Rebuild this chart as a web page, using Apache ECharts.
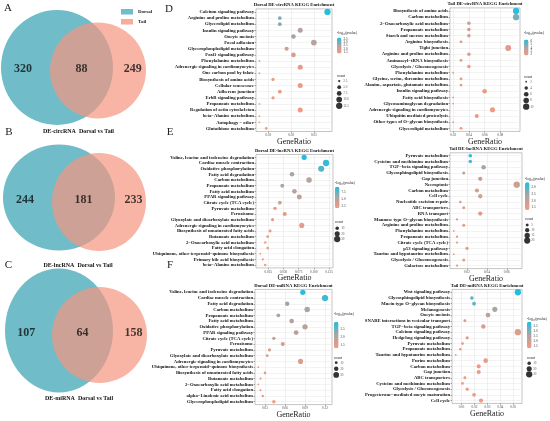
<!DOCTYPE html>
<html>
<head>
<meta charset="utf-8">
<script src="https://cdn.jsdelivr.net/npm/echarts@6/dist/echarts.min.js"></script>
<style>
  html, body { margin: 0; padding: 0; background: #fff; }
  #chart { width: 550px; height: 421px; }
</style>
</head>
<body>
<div id="chart"></div>
<script>
// ---- Venn counts: [dorsal only, shared, tail only]
const vennCircRNA = [320, 88, 249];
const vennLncRNA = [244, 181, 233];
const vennMiRNA = [107, 64, 158];
const vennCaptions = ['DE-circRNA  Dorsal vs Tail', 'DE-lncRNA  Dorsal vs Tail', 'DE-miRNA  Dorsal vs Tail'];

// ---- D left: Dorsal DE-circRNA
const circDorsalTerms = ['Calcium signaling pathway', 'Arginine and proline metabolism', 'Glycerolipid metabolism', 'Insulin signaling pathway', 'Oocyte meiosis', 'Focal adhesion', 'Glycerophospholipid metabolism', 'FoxO signaling pathway', 'Phenylalanine metabolism', 'Adrenergic signaling in cardiomyocytes', 'One carbon pool by folate', 'Biosynthesis of amino acids', 'Cellular senescence', 'Adherens junction', 'ErbB signaling pathway', 'Propanoate metabolism', 'Regulation of actin cytoskeleton', 'beta\u2212Alanine metabolism', 'Autophagy \u2212 other', 'Glutathione metabolism'];
const circDorsalRatio = [0.036, 0.015, 0.015, 0.024, 0.021, 0.030, 0.018, 0.021, 0.006, 0.024, 0.006, 0.012, 0.024, 0.015, 0.012, 0.006, 0.024, 0.006, 0.006, 0.009];
const circDorsalCount = [12, 5, 5, 8, 7, 10, 6, 7, 2, 8, 2, 4, 8, 5, 4, 2, 8, 2, 2, 3];
const circDorsalLogP = [3.6, 2.9, 2.9, 2.4, 2.6, 2.3, 2.0, 1.9, 1.6, 1.6, 1.6, 1.5, 1.5, 1.5, 1.5, 1.4, 1.4, 1.4, 1.4, 1.35];
const circDorsalTicks = [0.01, 0.02, 0.03];
const circDorsalPTicks = [1.5, 2.0, 2.5, 3.0, 3.5];
const circDorsalSizeTicks = [2.5, 5.0, 7.5, 10.0, 12.5];

// ---- D right: Tail DE-circRNA
const circTailTerms = ['Biosynthesis of amino acids', 'Carbon metabolism', '2\u2212Oxocarboxylic acid metabolism', 'Propanoate metabolism', 'Starch and sucrose metabolism', 'Arginine biosynthesis', 'Tight junction', 'Arginine and proline metabolism', 'Aminoacyl\u2212tRNA biosynthesis', 'Glycolysis / Gluconeogenesis', 'Phenylalanine metabolism', 'Glycine, serine, threonine metabolism', 'Alanine, aspartate, glutamate metabolism', 'Insulin signaling pathway', 'Fatty acid biosynthesis', 'Glycosaminoglycan degradation', 'Adrenergic signaling in cardiomyocytes', 'Ubiquitin mediated proteolysis', 'Other types of O\u2212glycan biosynthesis', 'Glycerolipid metabolism'];
const circTailRatio = [0.10, 0.10, 0.04, 0.04, 0.04, 0.03, 0.09, 0.04, 0.03, 0.04, 0.02, 0.03, 0.03, 0.06, 0.02, 0.02, 0.07, 0.05, 0.02, 0.03];
const circTailCount = [10, 10, 4, 4, 4, 3, 9, 4, 3, 4, 2, 3, 3, 6, 2, 2, 7, 5, 2, 3];
const circTailLogP = [6.3, 5.0, 3.4, 3.1, 2.9, 2.3, 2.3, 2.3, 2.1, 2.1, 2.0, 2.0, 2.0, 1.9, 1.9, 1.9, 1.8, 1.8, 1.7, 1.7];
const circTailTicks = [0.02, 0.04, 0.06, 0.08];
const circTailPTicks = [2, 3, 4, 5, 6];
const circTailSizeTicks = [2, 4, 6, 8, 10];

// ---- E left: Dorsal DE-lncRNA
const lncDorsalTerms = ['Valine, leucine and isoleucine degradation', 'Cardiac muscle contraction', 'Oxidative phosphorylation', 'Fatty acid degradation', 'Carbon metabolism', 'Propanoate metabolism', 'Fatty acid metabolism', 'PPAR signaling pathway', 'Citrate cycle (TCA cycle)', 'Pyruvate metabolism', 'Peroxisome', 'Glyoxylate and dicarboxylate metabolism', 'Adrenergic signaling in cardiomyocytes', 'Biosynthesis of unsaturated fatty acids', 'Butanoate metabolism', '2\u2212Oxocarboxylic acid metabolism', 'Fatty acid elongation', 'Ubiquinone, other terpenoid\u2212quinone biosynthesis', 'Primary bile acid biosynthesis', 'beta\u2212Alanine metabolism'];
const lncDorsalRatio = [0.084, 0.12, 0.112, 0.064, 0.092, 0.048, 0.068, 0.076, 0.044, 0.036, 0.052, 0.032, 0.08, 0.028, 0.024, 0.02, 0.024, 0.012, 0.016, 0.02];
const lncDorsalCount = [21, 30, 28, 16, 23, 12, 17, 19, 11, 9, 13, 8, 20, 7, 6, 5, 6, 3, 4, 5];
const lncDorsalLogP = [9.2, 8.8, 8.0, 5.6, 5.0, 5.2, 4.8, 4.6, 3.8, 2.6, 2.6, 2.4, 2.3, 2.2, 2.0, 1.9, 1.9, 1.8, 1.7, 1.7];
const lncDorsalTicks = [0.025, 0.05, 0.075, 0.1, 0.125];
const lncDorsalPTicks = [2.5, 5.0, 7.5];
const lncDorsalSizeTicks = [10, 20, 30];

// ---- E right: Tail DE-lncRNA
const lncTailTerms = ['Pyruvate metabolism', 'Cysteine and methionine metabolism', 'TGF\u2212beta signaling pathway', 'Glycosphingolipid biosynthesis', 'Gap junction', 'Necroptosis', 'Carbon metabolism', 'Cell cycle', 'Nucleotide excision repair', 'ABC transporters', 'RNA transport', 'Mannose type O\u2212glycan biosynthesis', 'Arginine and proline metabolism', 'Phenylalanine metabolism', 'Propanoate metabolism', 'Citrate cycle (TCA cycle)', 'p53 signaling pathway', 'Taurine and hypotaurine metabolism', 'Glycolysis / Gluconeogenesis', 'Galactose metabolism'];
const lncTailRatio = [0.0233, 0.0233, 0.0367, 0.0167, 0.0333, 0.07, 0.03, 0.0333, 0.0133, 0.0167, 0.0333, 0.01, 0.0167, 0.0067, 0.01, 0.01, 0.02, 0.0067, 0.0167, 0.01];
const lncTailCount = [7, 7, 11, 5, 10, 21, 9, 10, 4, 5, 10, 3, 5, 2, 3, 3, 6, 2, 5, 3];
const lncTailLogP = [3.3, 3.1, 2.4, 2.2, 2.0, 1.9, 1.8, 1.8, 1.7, 1.7, 1.6, 1.6, 1.5, 1.5, 1.5, 1.5, 1.4, 1.4, 1.4, 1.35];
const lncTailTicks = [0.02, 0.04, 0.06];
const lncTailPTicks = [1.5, 2.0, 2.5, 3.0];
const lncTailSizeTicks = [5, 10, 15, 20];

// ---- F left: Dorsal DE-miRNA
const miDorsalTerms = ['Valine, leucine and isoleucine degradation', 'Cardiac muscle contraction', 'Fatty acid degradation', 'Carbon metabolism', 'Propanoate metabolism', 'Fatty acid metabolism', 'Oxidative phosphorylation', 'PPAR signaling pathway', 'Citrate cycle (TCA cycle)', 'Peroxisome', 'Pyruvate metabolism', 'Glyoxylate and dicarboxylate metabolism', 'Adrenergic signaling in cardiomyocytes', 'Ubiquinone, other terpenoid\u2212quinone biosynthesis', 'Biosynthesis of unsaturated fatty acids', 'Butanoate metabolism', '2\u2212Oxocarboxylic acid metabolism', 'Fatty acid elongation', 'alpha\u2212Linolenic acid metabolism', 'Glycerophospholipid metabolism'];
const miDorsalRatio = [0.0867, 0.12, 0.0633, 0.0933, 0.05, 0.07, 0.09, 0.0767, 0.0433, 0.0567, 0.0367, 0.0333, 0.0833, 0.02, 0.03, 0.0233, 0.02, 0.0233, 0.0267, 0.0433];
const miDorsalCount = [26, 36, 19, 28, 15, 21, 27, 23, 13, 17, 11, 10, 25, 6, 9, 7, 6, 7, 8, 13];
const miDorsalLogP = [2.9, 2.8, 2.3, 2.2, 2.2, 2.1, 2.0, 2.0, 1.9, 1.7, 1.7, 1.6, 1.6, 1.5, 1.5, 1.5, 1.4, 1.4, 1.4, 1.35];
const miDorsalTicks = [0.03, 0.06, 0.09, 0.12];
const miDorsalPTicks = [1.5, 2.0, 2.5];
const miDorsalSizeTicks = [10, 20, 30];

// ---- F right: Tail DE-miRNA
const miTailTerms = ['Wnt signaling pathway', 'Glycosphingolipid biosynthesis', 'Mucin type O\u2212glycan biosynthesis', 'Melanogenesis', 'Oocyte meiosis', 'SNARE interactions in vesicular transport', 'TGF\u2212beta signaling pathway', 'Calcium signaling pathway', 'Hedgehog signaling pathway', 'Pyruvate metabolism', 'Propanoate metabolism', 'Taurine and hypotaurine metabolism', 'Purine metabolism', 'Carbon metabolism', 'Gap junction', 'ABC transporters', 'Cysteine and methionine metabolism', 'Glycolysis / Gluconeogenesis', 'Progesterone\u2212mediated oocyte maturation', 'Cell cycle'];
const miTailRatio = [0.0536, 0.0179, 0.0196, 0.0357, 0.0304, 0.0125, 0.0268, 0.0536, 0.0143, 0.0107, 0.0089, 0.0054, 0.0286, 0.0232, 0.0232, 0.0125, 0.0107, 0.0143, 0.0196, 0.025];
const miTailCount = [30, 10, 11, 20, 17, 7, 15, 30, 8, 6, 5, 3, 16, 13, 13, 7, 6, 8, 11, 14];
const miTailLogP = [3.8, 3.4, 3.3, 2.6, 2.3, 1.9, 1.8, 1.8, 1.7, 1.7, 1.6, 1.6, 1.6, 1.5, 1.5, 1.5, 1.4, 1.4, 1.4, 1.35];
const miTailTicks = [0.01, 0.02, 0.03, 0.04, 0.05];
const miTailPTicks = [1.5, 2.0, 2.5, 3.0, 3.5];
const miTailSizeTicks = [10, 20, 30];

const SERIF = "'Liberation Serif', 'DejaVu Serif', serif";
const VENN_BLUE = '#70BCC9';
const VENN_PINK = '#F5967F';
const DOT_COLORS = ['#F7987E', '#ADA4A3', '#1BBFE2'];
const DMIN = 1.8, DMAX = 6.3;

// layout of the three venn diagrams, in page pixels: [cx, cy, rx, ry]
const vennLayout = [
  { blue: [57, 67.5, 56, 57.5], pink: [98, 70.5, 48, 48], caption: [78.5, 131] },
  { blue: [59, 197.5, 56, 53], pink: [99, 202, 47, 49], caption: [78, 265] },
  { blue: [59, 330.5, 54, 62], pink: [99.5, 335, 47.5, 48], caption: [79, 398] }
];

const dotPanels = [
  { title: 'Dorsal DE-circRNA KEGG Enrichment', terms: circDorsalTerms, ratio: circDorsalRatio, count: circDorsalCount, logp: circDorsalLogP, ticks: circDorsalTicks, pTicks: circDorsalPTicks, sizeTicks: circDorsalSizeTicks },
  { title: 'Tail DE-circRNA KEGG Enrichment', terms: circTailTerms, ratio: circTailRatio, count: circTailCount, logp: circTailLogP, ticks: circTailTicks, pTicks: circTailPTicks, sizeTicks: circTailSizeTicks },
  { title: 'Dorsal DE-lncRNA KEGG Enrichment', terms: lncDorsalTerms, ratio: lncDorsalRatio, count: lncDorsalCount, logp: lncDorsalLogP, ticks: lncDorsalTicks, pTicks: lncDorsalPTicks, sizeTicks: lncDorsalSizeTicks },
  { title: 'Tail DE-lncRNA KEGG Enrichment', terms: lncTailTerms, ratio: lncTailRatio, count: lncTailCount, logp: lncTailLogP, ticks: lncTailTicks, pTicks: lncTailPTicks, sizeTicks: lncTailSizeTicks },
  { title: 'Dorsal DE-miRNA KEGG Enrichment', terms: miDorsalTerms, ratio: miDorsalRatio, count: miDorsalCount, logp: miDorsalLogP, ticks: miDorsalTicks, pTicks: miDorsalPTicks, sizeTicks: miDorsalSizeTicks },
  { title: 'Tail DE-miRNA KEGG Enrichment', terms: miTailTerms, ratio: miTailRatio, count: miTailCount, logp: miTailLogP, ticks: miTailTicks, pTicks: miTailPTicks, sizeTicks: miTailSizeTicks }
];

// positions / axis ranges per dot panel
const dotLayout = [
  { left: 256, top: 8.9, width: 76, height: 122.6, min: 0.0045, max: 0.038, dec: 2, nameGap: 5.5, pMin: 1.3, pMax: 3.7, pDec: 1, sDec: 1, legX: 337, pTitleY: 33, barTop: 37.5, barH: 16, cTitleY: 76, cTop: 81, cStep: 6.2 },
  { left: 450, top: 7.9, width: 70, height: 123.5, min: 0.016, max: 0.105, dec: 2, nameGap: 5.5, pMin: 1.6, pMax: 6.6, pDec: 0, sDec: 0, legX: 524, pTitleY: 32.7, barTop: 39.5, barH: 16, cTitleY: 76.7, cTop: 81.7, cStep: 6.25 },
  { left: 256, top: 154.5, width: 77, height: 113.4, min: 0.0048, max: 0.1314, dec: 3, nameGap: 4.6, pMin: 1.6, pMax: 9.5, pDec: 1, sDec: 0, legX: 335, pTitleY: 182.7, barTop: 186.7, barH: 21.6, cTitleY: 221.7, cTop: 228.3, cStep: 5.4 },
  { left: 450, top: 152.8, width: 72, height: 115.8, min: 0.0029, max: 0.0753, dec: 2, nameGap: 4.4, pMin: 1.3, pMax: 3.4, pDec: 1, sDec: 0, legX: 525, pTitleY: 179.3, barTop: 182.3, barH: 27.7, cTitleY: 219, cTop: 225, cStep: 5.2 },
  { left: 255, top: 289.4, width: 77, height: 115.2, min: 0.015, max: 0.1305, dec: 2, nameGap: 4.6, pMin: 1.3, pMax: 3.0, pDec: 1, sDec: 0, legX: 334, pTitleY: 314.3, barTop: 321.7, barH: 26.6, cTitleY: 357.7, cTop: 362.7, cStep: 6.1 },
  { left: 452, top: 289.4, width: 70, height: 114, min: 0.0025, max: 0.0568, dec: 2, nameGap: 5.2, pMin: 1.3, pMax: 3.9, pDec: 1, sDec: 0, legX: 527, pTitleY: 319.3, barTop: 321.7, barH: 26.6, cTitleY: 357.7, cTop: 363.3, cStep: 5.5 }
];

function sizeFn(c, range) {
  const t = Math.max(0, Math.min(1, (c - range[0]) / (range[1] - range[0])));
  return Math.sqrt(DMIN * DMIN + (DMAX * DMAX - DMIN * DMIN) * t);
}

function textEl(text, x, y, font, align, fill) {
  return {
    type: 'text', x: x, y: y, silent: true, z: 10,
    style: { text: text, font: font, align: align || 'left', textAlign: align || 'left',
      verticalAlign: 'middle', textVerticalAlign: 'middle', fill: fill || '#111' }
  };
}

const chart = echarts.init(document.getElementById('chart'), null, { renderer: 'canvas' });
const grids = [], xAxes = [], yAxes = [], series = [], visualMaps = [], graphics = [];

// ---- venn grid: axes in page pixels, y pointing down
grids.push({ left: 0, top: 0, width: 175, height: 421, show: false, outerBoundsMode: 'none' });
xAxes.push({ type: 'value', gridIndex: 0, min: 0, max: 175, show: false });
yAxes.push({ type: 'value', gridIndex: 0, min: 0, max: 421, inverse: true, show: false });

function ellipse(api, color, opacity) {
  const c = api.coord([api.value(0), api.value(1)]);
  const s = api.size([api.value(2), api.value(3)]);
  return {
    type: 'circle', shape: { cx: 0, cy: 0, r: 1 }, x: c[0], y: c[1],
    scaleX: Math.abs(s[0]), scaleY: Math.abs(s[1]),
    style: { fill: color, opacity: opacity }
  };
}

series.push({
  type: 'custom', name: 'Dorsal', coordinateSystem: 'cartesian2d', xAxisIndex: 0, yAxisIndex: 0,
  itemStyle: { color: VENN_BLUE }, silent: true, z: 1,
  data: vennLayout.map(g => g.blue),
  renderItem: (p, api) => ellipse(api, VENN_BLUE, 1)
});
series.push({
  type: 'custom', name: 'Tail', coordinateSystem: 'cartesian2d', xAxisIndex: 0, yAxisIndex: 0,
  itemStyle: { color: '#F9AC9C' }, silent: true, z: 2,
  data: vennLayout.map(g => g.pink),
  renderItem: (p, api) => ellipse(api, VENN_PINK, 0.7)
});

const vennSets = [vennCircRNA, vennLncRNA, vennMiRNA];
const vennLabelData = [];
vennLayout.forEach((g, i) => {
  const bl = g.blue[0] - g.blue[2], br = g.blue[0] + g.blue[2];
  const pl = g.pink[0] - g.pink[2], pr = g.pink[0] + g.pink[2];
  const y = (g.blue[1] + g.pink[1]) / 2;
  const xs = [bl + 0.45 * (pl - bl), (pl + br) / 2, br + 0.6 * (pr - br)];
  vennSets[i].forEach((v, k) => vennLabelData.push([xs[k], y, v]));
  graphics.push(textEl(vennCaptions[i], g.caption[0], g.caption[1], 'bold 6px ' + SERIF, 'center', '#111'));
});
series.push({
  type: 'scatter', xAxisIndex: 0, yAxisIndex: 0, symbolSize: 1, silent: true, z: 5,
  itemStyle: { color: 'rgba(0,0,0,0)' },
  data: vennLabelData,
  label: { show: true, position: 'inside', formatter: p => String(p.value[2]),
    fontFamily: SERIF, fontWeight: 'bold', fontSize: 12, color: '#111' }
});

// ---- dot plots
dotPanels.forEach((d, i) => {
  const L = dotLayout[i];
  const gi = grids.length;
  grids.push({ left: L.left, top: L.top, width: L.width, height: L.height, show: true,
    borderColor: '#8a8a8a', borderWidth: 0.5, backgroundColor: '#fff', outerBoundsMode: 'none' });
  xAxes.push({
    type: 'value', gridIndex: gi, min: L.min, max: L.max,
    axisLine: { show: false },
    axisTick: { show: true, customValues: d.ticks, length: 1.5, lineStyle: { color: '#555', width: 0.5 } },
    axisLabel: { customValues: d.ticks, formatter: v => v.toFixed(L.dec), fontSize: 3.4,
      color: '#4d4d4d', margin: 2.3, fontFamily: SERIF },
    splitLine: { show: true, customValues: d.ticks, lineStyle: { color: '#e6e6e6', width: 0.6 } },
    name: 'GeneRatio', nameLocation: 'middle', nameGap: L.nameGap,
    nameTextStyle: { fontFamily: SERIF, fontSize: 8, color: '#1a1a1a' }
  });
  yAxes.push({
    type: 'category', gridIndex: gi, data: d.terms, inverse: true,
    axisLine: { show: false },
    axisTick: { show: true, alignWithLabel: true, interval: 0, length: 1.5, lineStyle: { color: '#555', width: 0.5 } },
    axisLabel: { interval: 0, fontFamily: SERIF, fontWeight: 'bold', fontSize: 4.7, color: '#111', margin: 2 },
    splitLine: { show: true, alignWithLabel: true, interval: 0, lineStyle: { color: '#ebebeb', width: 0.6 } }
  });
  const cRange = [Math.min(...d.count), Math.max(...d.count)];
  const si = series.length;
  series.push({
    type: 'scatter', xAxisIndex: gi, yAxisIndex: gi, silent: true, z: 3,
    data: d.terms.map((t, k) => [d.ratio[k], t, d.logp[k], d.count[k]]),
    encode: { x: 0, y: 1 },
    symbolSize: v => sizeFn(v[3], cRange),
    itemStyle: { opacity: 1 }
  });
  visualMaps.push({
    type: 'continuous', seriesIndex: si, dimension: 2, min: L.pMin, max: L.pMax,
    inRange: { color: DOT_COLORS }, calculable: false, hoverLink: false,
    itemWidth: 4.5, itemHeight: L.barH, left: L.legX, top: L.barTop, padding: 0, text: null
  });

  // title and legend text
  graphics.push(textEl(d.title, L.left + L.width / 2, L.top - 3.8, 'bold 4.7px ' + SERIF, 'center', '#111'));
  graphics.push(textEl('-log\u2081\u2080(pvalue)', L.legX, L.pTitleY, '3.6px ' + SERIF, 'left', '#222'));
  d.pTicks.forEach(v => {
    const y = L.barTop + (L.pMax - v) / (L.pMax - L.pMin) * L.barH;
    graphics.push(textEl(v.toFixed(L.pDec), L.legX + 6.5, y, '3.3px ' + SERIF, 'left', '#333'));
  });
  graphics.push(textEl('count', L.legX, L.cTitleY, '3.6px ' + SERIF, 'left', '#222'));

  // size legend on its own small grid
  const lgi = grids.length;
  const n = d.sizeTicks.length;
  grids.push({ left: L.legX, top: L.cTop - L.cStep / 2, width: 6, height: n * L.cStep, show: false, outerBoundsMode: 'none' });
  xAxes.push({ type: 'value', gridIndex: lgi, min: 0, max: 6, show: false });
  yAxes.push({ type: 'category', gridIndex: lgi, data: d.sizeTicks.map(String), inverse: true, show: false });
  series.push({
    type: 'scatter', xAxisIndex: lgi, yAxisIndex: lgi, silent: true, z: 3,
    itemStyle: { color: '#000' },
    data: d.sizeTicks.map(v => {
      const s = sizeFn(v, cRange);
      return {
        value: [2.2, String(v)], symbolSize: s,
        label: { show: true, position: [s / 2 + 4, s / 2], align: 'left', verticalAlign: 'middle',
          formatter: v.toFixed(L.sDec), fontSize: 3.3, fontFamily: SERIF, color: '#333' }
      };
    })
  });
});

// panel letters
[['A', 8, 8.5], ['B', 9, 132], ['C', 8.5, 265], ['D', 169, 9], ['E', 170, 132.5], ['F', 170, 265]].forEach(l => {
  graphics.push(textEl(l[0], l[1], l[2], '11px ' + SERIF, 'center', '#222'));
});

chart.setOption({
  animation: false,
  backgroundColor: '#fff',
  legend: {
    data: [{ name: 'Dorsal', icon: 'rect' }, { name: 'Tail', icon: 'rect' }],
    orient: 'vertical', left: 121, top: 9, itemWidth: 12, itemHeight: 5.5, itemGap: 4.5,
    padding: 0, selectedMode: false,
    textStyle: { fontFamily: SERIF, fontWeight: 'bold', fontSize: 5, color: '#222' }
  },
  grid: grids,
  xAxis: xAxes,
  yAxis: yAxes,
  visualMap: visualMaps,
  series: series,
  graphic: { elements: graphics }
});
</script>
</body>
</html>
